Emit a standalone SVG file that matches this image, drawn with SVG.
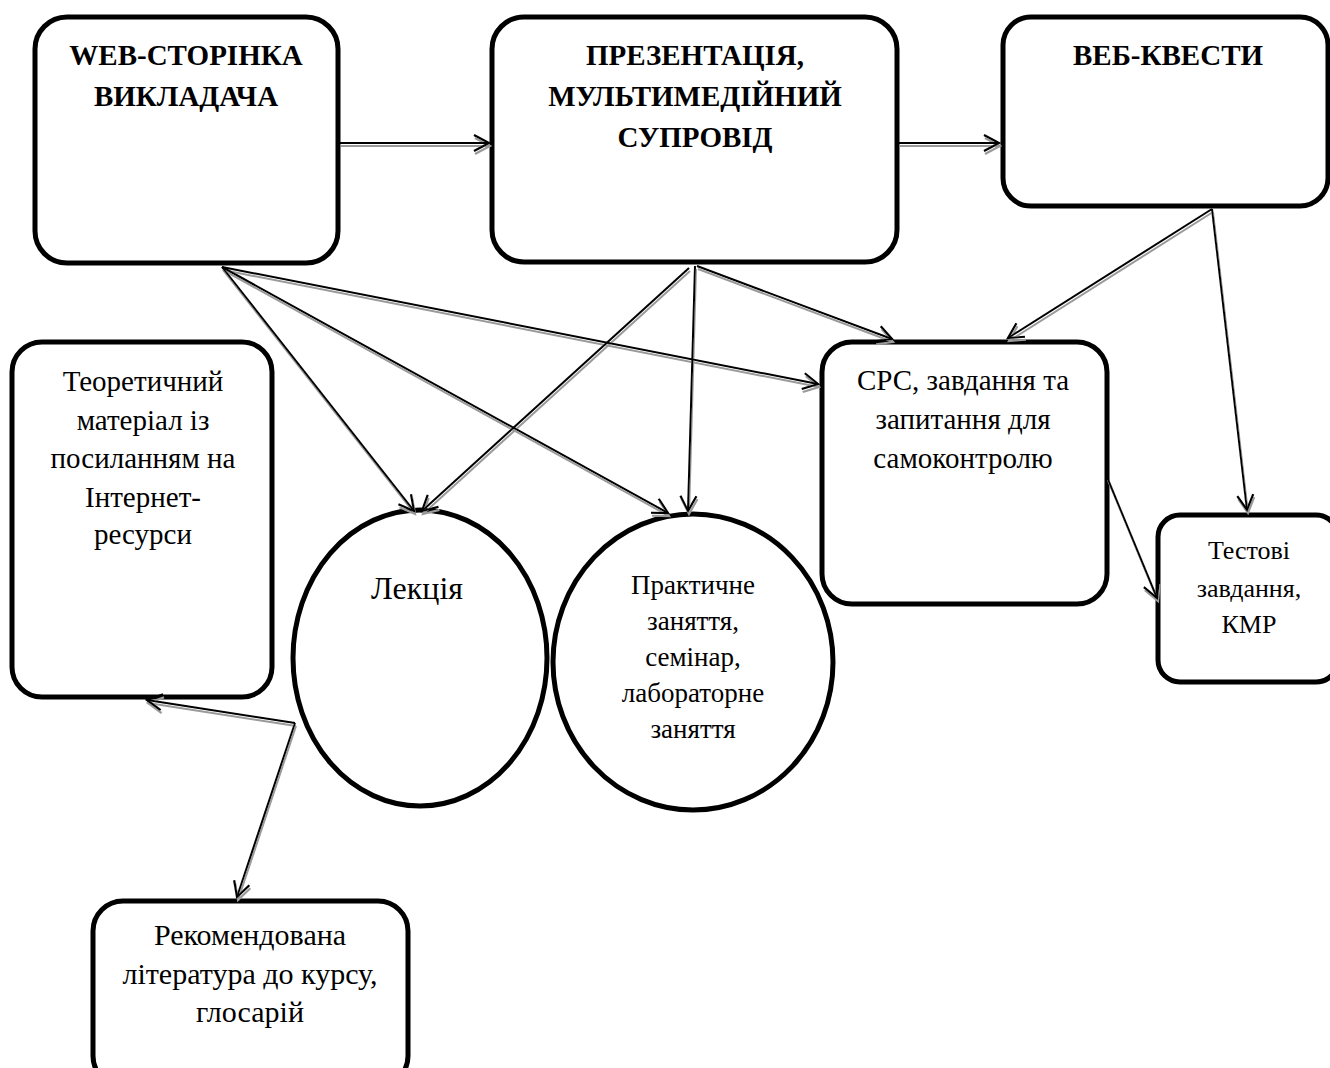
<svg xmlns="http://www.w3.org/2000/svg" width="1330" height="1068" viewBox="0 0 1330 1068">
  <style>
    .box { fill: #ffffff; stroke: #000000; stroke-width: 5; }
    .t { font-family: "Liberation Serif", "Times New Roman", serif; font-size: 29px; fill: #000; text-anchor: middle; }
    .h { font-family: "Liberation Serif", "Times New Roman", serif; font-size: 29px; font-weight: bold; fill: #000; text-anchor: middle; }
    .s { font-size: 27px; }
    .m { font-size: 26px; }
    .l { font-size: 30px; }
    .xl { font-size: 32px; }
    .conn line { stroke: #000; stroke-width: 2; fill: none; marker-end: url(#open); }
  </style>
  <defs>
    <marker id="open" markerUnits="userSpaceOnUse" viewBox="-17 -10 19 20" refX="0" refY="0" markerWidth="19" markerHeight="20" orient="auto" overflow="visible">
      <path d="M-15,-8 L0,0 L-15,8" fill="none" stroke="#000" stroke-width="2.2"/>
    </marker>
    <filter id="shade" filterUnits="userSpaceOnUse" x="0" y="0" width="1330" height="1068">
      <feFlood flood-color="#9a9a9a" result="c"/>
      <feComposite in="c" in2="SourceAlpha" operator="in" result="s"/>
      <feOffset in="s" dx="0.5" dy="3" result="o"/>
      <feMerge>
        <feMergeNode in="o"/>
        <feMergeNode in="SourceGraphic"/>
      </feMerge>
    </filter>
  </defs>
  <rect width="1330" height="1068" fill="#ffffff"/>

  <g id="web-page">
    <rect class="box" x="35" y="17" width="303" height="246" rx="32"/>
    <text class="h" x="186" y="65">WEB-СТОРІНКА</text>
    <text class="h" x="186" y="106">ВИКЛАДАЧА</text>
  </g>

  <g id="presentation">
    <rect class="box" x="492" y="17" width="405" height="245" rx="32"/>
    <text class="h" x="695" y="65">ПРЕЗЕНТАЦІЯ,</text>
    <text class="h" x="695" y="106">МУЛЬТИМЕДІЙНИЙ</text>
    <text class="h" x="695" y="147">СУПРОВІД</text>
  </g>

  <g id="web-quests">
    <rect class="box" x="1003" y="17" width="325" height="189" rx="28"/>
    <text class="h" x="1168" y="65">ВЕБ-КВЕСТИ</text>
  </g>

  <g id="theory">
    <rect class="box" x="12" y="342" width="260" height="355" rx="30"/>
    <text class="t" x="143" y="391">Теоретичний</text>
    <text class="t" x="143" y="430">матеріал із</text>
    <text class="t" x="143" y="468">посиланням на</text>
    <text class="t" x="143" y="507">Інтернет-</text>
    <text class="t" x="143" y="544">ресурси</text>
  </g>

  <g id="self-study">
    <rect class="box" x="822" y="342" width="285" height="262" rx="30"/>
    <text class="t" x="963" y="390">СРС, завдання та</text>
    <text class="t" x="963" y="429">запитання для</text>
    <text class="t" x="963" y="468">самоконтролю</text>
  </g>

  <g id="tests">
    <rect class="box" x="1158" y="515" width="180" height="167" rx="22"/>
    <text class="t m" x="1249" y="559">Тестові</text>
    <text class="t m" x="1249" y="597">завдання,</text>
    <text class="t m" x="1249" y="633">КМР</text>
  </g>

  <g id="lecture">
    <ellipse class="box" cx="420" cy="658" rx="127" ry="148"/>
    <text class="t xl" x="417" y="599">Лекція</text>
  </g>

  <g id="practice">
    <ellipse class="box" cx="693" cy="662" rx="140" ry="148"/>
    <text class="t s" x="693" y="594">Практичне</text>
    <text class="t s" x="693" y="630">заняття,</text>
    <text class="t s" x="693" y="666">семінар,</text>
    <text class="t s" x="693" y="702">лабораторне</text>
    <text class="t s" x="693" y="738">заняття</text>
  </g>

  <g id="literature">
    <rect class="box" x="93" y="901" width="315" height="185" rx="30"/>
    <text class="t l" x="250" y="945">Рекомендована</text>
    <text class="t l" x="250" y="984">література до курсу,</text>
    <text class="t l" x="250" y="1022">глосарій</text>
  </g>

  <g id="connectors" class="conn" filter="url(#shade)">
    <line x1="340" y1="143" x2="489" y2="143"/>
    <line x1="899" y1="143" x2="999" y2="143"/>
    <line x1="222" y1="267" x2="414" y2="511"/>
    <line x1="222" y1="267" x2="668" y2="513"/>
    <line x1="222" y1="267" x2="818" y2="384"/>
    <line x1="689" y1="268" x2="422" y2="511"/>
    <line x1="695" y1="266" x2="688" y2="511"/>
    <line x1="697" y1="266" x2="892" y2="339"/>
    <line x1="1212" y1="209" x2="1008" y2="338"/>
    <line x1="1212" y1="209" x2="1247" y2="510"/>
    <line x1="1107" y1="477" x2="1157" y2="598"/>
    <line x1="295" y1="723" x2="147" y2="700"/>
    <line x1="295" y1="723" x2="237" y2="897"/>
  </g>
</svg>
